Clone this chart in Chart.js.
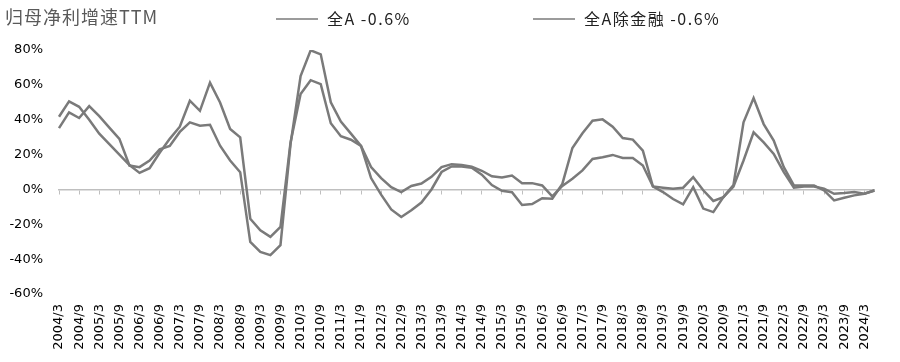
<!DOCTYPE html>
<html>
<head>
<meta charset="utf-8">
<script src="https://cdn.jsdelivr.net/npm/chart.js@4.4.1/dist/chart.umd.min.js"></script>
<style>
  html, body { margin: 0; padding: 0; background: #fff; }
  #wrap { width: 900px; height: 362px; }
</style>
</head>
<body>
<div id="wrap"><canvas id="c" width="900" height="362"></canvas></div>
<script>
// quarterly TTM growth, 2004/3 .. 2024/6
const quarters = [
  '2004/3','2004/6','2004/9','2004/12','2005/3','2005/6','2005/9','2005/12',
  '2006/3','2006/6','2006/9','2006/12','2007/3','2007/6','2007/9','2007/12',
  '2008/3','2008/6','2008/9','2008/12','2009/3','2009/6','2009/9','2009/12',
  '2010/3','2010/6','2010/9','2010/12','2011/3','2011/6','2011/9','2011/12',
  '2012/3','2012/6','2012/9','2012/12','2013/3','2013/6','2013/9','2013/12',
  '2014/3','2014/6','2014/9','2014/12','2015/3','2015/6','2015/9','2015/12',
  '2016/3','2016/6','2016/9','2016/12','2017/3','2017/6','2017/9','2017/12',
  '2018/3','2018/6','2018/9','2018/12','2019/3','2019/6','2019/9','2019/12',
  '2020/3','2020/6','2020/9','2020/12','2021/3','2021/6','2021/9','2021/12',
  '2022/3','2022/6','2022/9','2022/12','2023/3','2023/6','2023/9','2023/12',
  '2024/3','2024/6'
];

const allA = [
  41.7, 50.5, 47.4, 40, 32, 26, 20, 14,
  9.5, 12.2, 21, 29, 36, 50.9, 45.1, 61.3,
  49.9, 34.7, 29.9, -16.8, -23.4, -27.2, -21.5, 27,
  54.7, 62.7, 60.4, 38, 30.5, 28.5, 25, 12.8,
  6.5, 1.3, -1.5, 2, 3.4, 7.2, 12.8, 14.5,
  14, 13.1, 10.7, 7.5, 6.8, 8, 3.6, 3.6,
  2.3, -4, 2, 6.1, 10.9, 17.5, 18.5, 19.8,
  18.1, 18.1, 13.7, 1.7, 1, 0.4, 1, 7,
  -0.5, -6.6, -4.4, 1.7, 16.6, 32.8, 27, 20.4,
  9.9, 1, 1.7, 1.7, 0.4, -2.5, -2.1, -1.5,
  -2.5, -0.6
];

const allAexFin = [
  35.2, 44.2, 41, 47.8, 42, 35.5, 29, 13.7,
  12.8, 16.6, 23, 25, 33, 38.5, 36.6, 37.1,
  25.1, 16.6, 9.9, -30.1, -35.8, -37.7, -32, 26,
  65.1, 79.8, 77.5, 50, 39, 32, 25, 6.5,
  -3, -11.5, -15.8, -12, -7.5, 0, 10, 13.2,
  13.2, 12.5, 8.5, 2.5, -0.8, -1.6, -8.9, -8.4,
  -5, -5.3, 3.2, 23.8, 32.2, 39.4, 40.2, 36,
  29.5, 28.6, 22.3, 1.7, -1.5, -5.5, -8.6, 1.3,
  -11, -13, -4.4, 2.5, 38.5, 52.4, 37.5, 28,
  12.8, 2.3, 2.3, 2.3, -0.6, -6.3, -4.8, -3.4,
  -2.5, -0.6
];

const seriesNames = ['全A -0.6%', '全A除金融 -0.6%'];
const chartTitle = '归母净利增速TTM';
const yMin = -60, yMax = 80, yStep = 20;

const LINE = '#7a7a7a';
const AXIS = '#bfbfbf';
const legendX = [276, 533];

// title + legend sit on one row above the plot, drawn by hand
const headerPlugin = {
  id: 'header',
  afterDraw(chart) {
    const ctx = chart.ctx;
    ctx.save();
    ctx.textBaseline = 'middle';
    ctx.textAlign = 'left';
    ctx.fillStyle = '#595959';
    ctx.font = '18px "Noto Sans CJK SC"';
    ctx.letterSpacing = '1px';
    ctx.fillText(chartTitle, 5, 17);

    chart.data.datasets.forEach((ds, i) => {
      const x = legendX[i];
      ctx.strokeStyle = ds.borderColor;
      ctx.lineWidth = 1.5;
      ctx.beginPath();
      ctx.moveTo(x, 19);
      ctx.lineTo(x + 42, 19);
      ctx.stroke();
      ctx.fillStyle = '#222';
      ctx.font = '16px "Noto Sans CJK SC"';
      ctx.letterSpacing = '1.5px';
      ctx.fillText(ds.label, x + 51, 19);
    });
    ctx.restore();
  }
};

new Chart(document.getElementById('c'), {
  type: 'line',
  data: {
    labels: quarters,
    datasets: [
      { label: seriesNames[0], data: allA, borderColor: LINE, borderWidth: 2.5, pointRadius: 0, tension: 0, xAxisID: 'x' },
      { label: seriesNames[1], data: allAexFin, borderColor: LINE, borderWidth: 2.5, pointRadius: 0, tension: 0, xAxisID: 'x' }
    ]
  },
  options: {
    responsive: false,
    animation: false,
    devicePixelRatio: 1,
    layout: { padding: { top: 50, right: 12, bottom: 0, left: 0 } },
    plugins: { legend: { display: false }, title: { display: false }, tooltip: { enabled: false } },
    scales: {
      x: {
        type: 'category',
        position: 'bottom',
        grid: { display: false, drawTicks: false },
        border: { display: false },
        afterFit: s => { s.height = 68; },
        ticks: {
          autoSkip: false, maxRotation: 90, minRotation: 90, padding: 10,
          color: '#000', font: { family: 'DejaVu Sans', size: 13 },
          callback: (v, i) => i % 2 === 0 ? quarters[i] : ''
        }
      },
      // zero line with small tick marks every half year
      x2: {
        type: 'category',
        axis: 'x',
        position: { y: 0 },
        ticks: { display: false, autoSkip: false },
        grid: {
          display: true, drawOnChartArea: false, drawTicks: true, tickLength: 4, tickWidth: 1,
          tickColor: c => c.index % 2 === 0 ? AXIS : 'rgba(0,0,0,0)'
        },
        border: { display: true, color: AXIS, width: 1.5 }
      },
      y: {
        min: yMin, max: yMax,
        grid: { display: false, drawTicks: false },
        border: { display: false },
        afterFit: s => { s.width = 59; },
        ticks: {
          stepSize: yStep, padding: 16,
          color: '#000', font: { family: 'DejaVu Sans', size: 13 },
          callback: v => v + '%'
        }
      }
    }
  },
  plugins: [headerPlugin]
});
</script>
</body>
</html>
